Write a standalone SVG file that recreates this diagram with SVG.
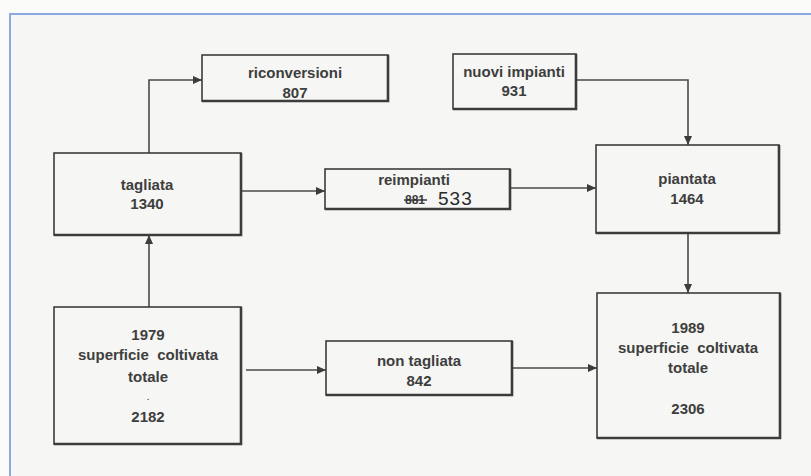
<svg xmlns="http://www.w3.org/2000/svg" width="811" height="476" viewBox="0 0 811 476">
<style>
.box{fill:none;stroke:#3c3c3c;stroke-width:1.6}
.sh{stroke:#3c3c3c;stroke-width:2.6;fill:none}
.t{font-family:"Liberation Sans",Arial,sans-serif;font-weight:bold;font-size:15px;fill:#3e3e3e;text-anchor:middle}
.c{fill:none;stroke:#4a4a4a;stroke-width:1.6}
.hw{font-family:"Liberation Sans",Arial,sans-serif;font-size:19px;fill:#2a2a2a;letter-spacing:1px}
</style>
<defs>
<marker id="ah" viewBox="0 0 9 8" refX="9" refY="4" markerWidth="9" markerHeight="8" markerUnits="userSpaceOnUse" orient="auto">
<path d="M0,0 L9,4 L0,8 z" fill="#3c3c3c"/>
</marker>
</defs>
<rect x="0" y="0" width="811" height="476" fill="#fbfbfa"/>
<rect x="10" y="14" width="801" height="462" fill="#f6f6f4"/>
<path d="M10,476 V14 H811" fill="none" stroke="#8ea9e2" stroke-width="2"/>

<g id="connectors">
<path class="c" d="M149,153 V80 H202" marker-end="url(#ah)"/>
<path class="c" d="M149,307 V235" marker-end="url(#ah)"/>
<path class="c" d="M241,191 H325" marker-end="url(#ah)"/>
<path class="c" d="M510,188 H596" marker-end="url(#ah)"/>
<path class="c" d="M576,80 H688 V145" marker-end="url(#ah)"/>
<path class="c" d="M688,233 V293" marker-end="url(#ah)"/>
<path class="c" d="M246,370 H326" marker-end="url(#ah)"/>
<path class="c" d="M512,368 H597" marker-end="url(#ah)"/>
</g>

<g id="riconversioni">
<rect class="box" x="202" y="55" width="186" height="46"/>
<path class="sh" d="M202,101 H388 V55"/>
<text class="t" x="295" y="78">riconversioni</text>
<text class="t" x="295" y="98">807</text>
</g>

<g id="nuovi-impianti">
<rect class="box" x="453" y="54" width="123" height="55"/>
<path class="sh" d="M453,109 H576 V54"/>
<text class="t" x="514" y="77">nuovi impianti</text>
<text class="t" x="514" y="96">931</text>
</g>

<g id="tagliata">
<rect class="box" x="54" y="153" width="187" height="82"/>
<path class="sh" d="M54,235 H241 V153"/>
<text class="t" x="147" y="190">tagliata</text>
<text class="t" x="147" y="209">1340</text>
</g>

<g id="reimpianti">
<rect class="box" x="325" y="169" width="185" height="40"/>
<path class="sh" d="M325,209 H510 V169"/>
<text class="t" x="414" y="185">reimpianti</text>
<text class="t" x="415" y="204" style="font-size:12px">881</text>
<path d="M404,200 H427" stroke="#2a2a2a" stroke-width="1.4"/>
<text class="hw" x="438" y="205">533</text>
</g>

<g id="piantata">
<rect class="box" x="596" y="145" width="183" height="88"/>
<path class="sh" d="M596,233 H779 V145"/>
<text class="t" x="687" y="184">piantata</text>
<text class="t" x="687" y="204">1464</text>
</g>

<g id="totale-1979">
<rect class="box" x="54" y="307" width="187" height="137"/>
<path class="sh" d="M54,444 H241 V307"/>
<text class="t" x="148" y="340">1979</text>
<text class="t" x="148" y="360" xml:space="preserve">superficie  coltivata</text>
<text class="t" x="148" y="382">totale</text>
<text class="t" x="148" y="400" style="font-size:8px">.</text>
<text class="t" x="148" y="422">2182</text>
</g>

<g id="non-tagliata">
<rect class="box" x="326" y="341" width="186" height="54"/>
<path class="sh" d="M326,395 H512 V341"/>
<text class="t" x="419" y="366">non tagliata</text>
<text class="t" x="419" y="386">842</text>
</g>

<g id="totale-1989">
<rect class="box" x="597" y="293" width="183" height="145"/>
<path class="sh" d="M597,438 H780 V293"/>
<text class="t" x="688" y="333">1989</text>
<text class="t" x="688" y="353" xml:space="preserve">superficie  coltivata</text>
<text class="t" x="688" y="373">totale</text>
<text class="t" x="688" y="414">2306</text>
</g>
</svg>
